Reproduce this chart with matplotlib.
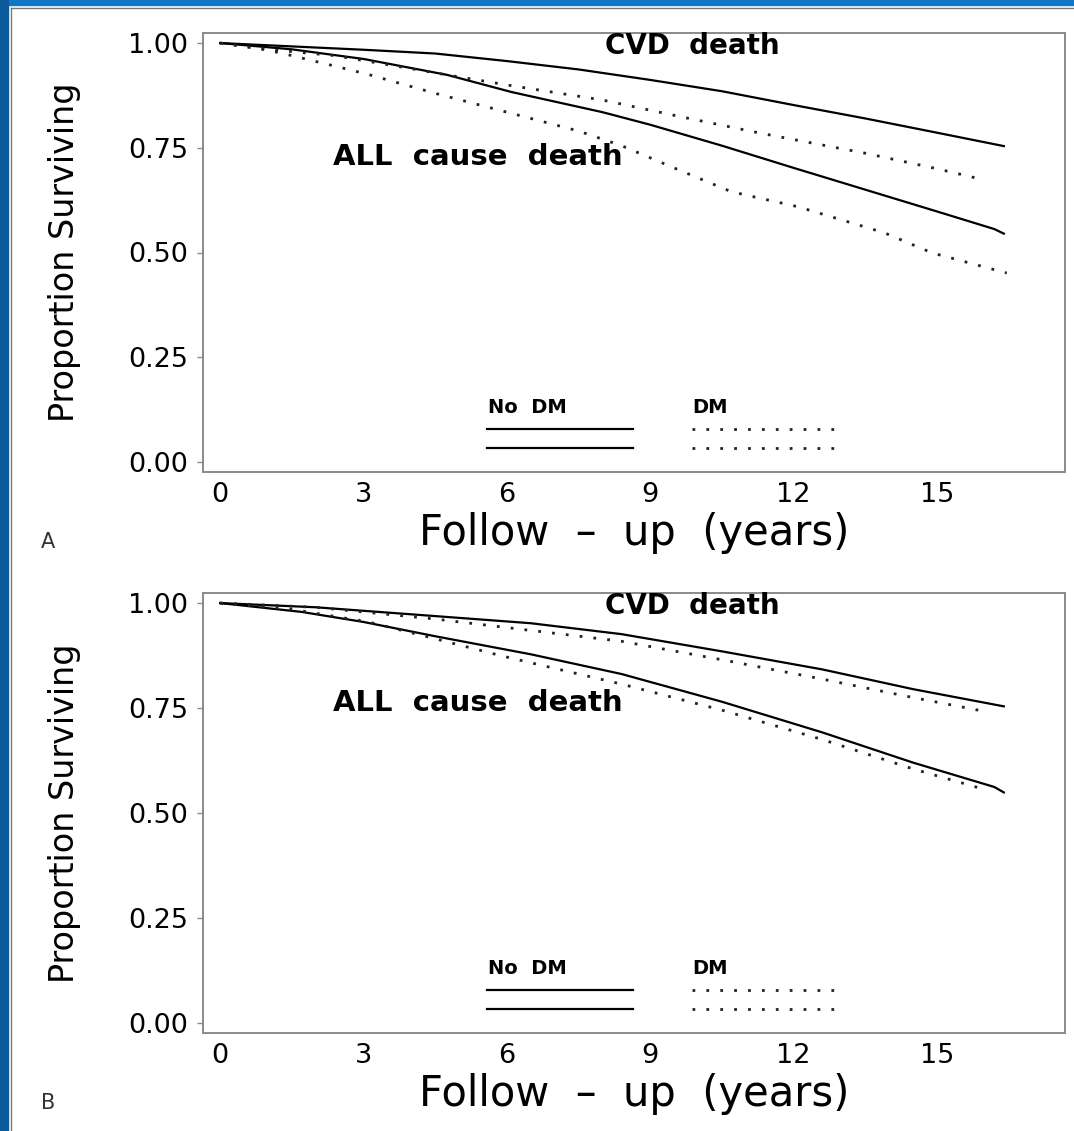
"""
Kaplan-Meier style survival curves (CVD / all cause death, DM vs no DM),
two stacked panels A and B.
"""

import matplotlib.pyplot as plt
from matplotlib.patches import Rectangle
from matplotlib.lines import Line2D

# ---- Panel A data (years, proportion surviving) ----
a_nodm_cvd_t = [0, 1.5, 3, 4.5, 6, 7.5, 9, 10.5, 12, 13.5, 15, 16.4]
a_nodm_cvd = [1.0, 0.992, 0.984, 0.975, 0.957, 0.937, 0.912, 0.885, 0.852, 0.82, 0.786, 0.754]
a_dm_cvd_t = [0, 1, 2.4, 4.75, 6, 8, 9.6, 11.3, 13.5, 15, 16.0]
a_dm_cvd = [1.0, 0.985, 0.97, 0.924, 0.90, 0.864, 0.825, 0.785, 0.737, 0.70, 0.673]
a_nodm_all_t = [0, 1.5, 3, 4.75, 6.1, 8, 9, 10.5, 12, 13.5, 15, 16.2, 16.4]
a_nodm_all = [1.0, 0.985, 0.962, 0.924, 0.883, 0.835, 0.805, 0.755, 0.702, 0.65, 0.598, 0.556, 0.545]
a_dm_all_t = [0, 1, 1.5, 2.4, 3.1, 4.5, 5.9, 7.5, 8.4, 9.6, 10.7, 12.1, 13.9, 14.9, 16.46]
a_dm_all = [1.0, 0.983, 0.97, 0.945, 0.925, 0.88, 0.838, 0.79, 0.755, 0.697, 0.645, 0.609, 0.547, 0.499, 0.451]

# ---- Panel B data ----
b_nodm_cvd_t = [0, 2, 4.5, 6.5, 8.4, 10.5, 12.6, 14.5, 16.4]
b_nodm_cvd = [1.0, 0.99, 0.969, 0.952, 0.926, 0.885, 0.842, 0.795, 0.754]
b_dm_cvd_t = [0, 2, 4.5, 5.9, 8.4, 10.5, 12.6, 14.5, 16.0]
b_dm_cvd = [1.0, 0.99, 0.962, 0.943, 0.909, 0.865, 0.819, 0.775, 0.742]
b_nodm_all_t = [0, 1.7, 3, 4.5, 6.5, 8.4, 10.5, 12.6, 14.5, 16.2, 16.4]
b_nodm_all = [1.0, 0.979, 0.955, 0.921, 0.878, 0.831, 0.765, 0.692, 0.62, 0.562, 0.549]
b_dm_all_t = [0, 1.5, 3.1, 4.5, 5.9, 8.4, 10.5, 12.6, 14.5, 16.0]
b_dm_all = [1.0, 0.985, 0.955, 0.915, 0.874, 0.807, 0.745, 0.675, 0.605, 0.556]

x_ticks = [0, 3, 6, 9, 12, 15]
y_ticks = [0.0, 0.25, 0.5, 0.75, 1.0]
y_tick_labels = ["0.00", "0.25", "0.50", "0.75", "1.00"]

SOLID = dict(color="black", lw=1.6, ls="-")
DOTTED = dict(color="#222222", lw=2.0, ls=(0, (1, 4)))
FRAME = "#8a8a8a"


def draw_panel(fig, rect, curves, letter, all_label_y):
    ax = fig.add_axes(rect)
    for (t, y), style in curves:
        ax.plot(t, y, **style)

    ax.set_xlim(-0.36, 17.68)
    ax.set_ylim(-0.024, 1.024)
    ax.set_xticks(x_ticks)
    ax.set_xticklabels([str(v) for v in x_ticks])
    ax.set_yticks(y_ticks)
    ax.set_yticklabels(y_tick_labels)
    ax.tick_params(axis="x", length=0, pad=7, labelsize=19.5)
    ax.tick_params(axis="y", length=4.5, width=1.0, color=FRAME, pad=6, labelsize=19.5)
    for s in ax.spines.values():
        s.set_color(FRAME)
        s.set_linewidth(1.4)

    ax.set_xlabel("Follow  \u2013  up  (years)", fontsize=30, labelpad=3)
    ax.set_ylabel("Proportion Surviving", fontsize=24, labelpad=34)

    ax.text(9.87, 0.993, "CVD  death", fontsize=20, fontweight="bold",
            ha="center", va="center")
    ax.text(5.4, all_label_y, "ALL  cause  death", fontsize=21, fontweight="bold",
            ha="center", va="center")

    # legend block
    ax.text(0.331, 0.146, "No  DM", transform=ax.transAxes, fontsize=14,
            fontweight="bold", ha="left", va="center")
    ax.text(0.567, 0.146, "DM", transform=ax.transAxes, fontsize=14,
            fontweight="bold", ha="left", va="center")
    for yy in (0.098, 0.055):
        ax.add_line(Line2D([0.329, 0.499], [yy, yy], transform=ax.transAxes, **SOLID))
        ax.add_line(Line2D([0.567, 0.735], [yy, yy], transform=ax.transAxes, **DOTTED))

    ax.text(-0.18, -0.16, letter, transform=ax.transAxes, fontsize=15,
            color="#333333", ha="center", va="center")
    return ax


def main():
    fig = plt.figure(figsize=(10.74, 11.31), dpi=100)
    W, H = 1074, 1131

    # blue slide border + thin gray frame
    fig.patches.append(Rectangle((0, 1 - 5 / H), 1, 5 / H, transform=fig.transFigure,
                                 color="#0f77c6", zorder=0))
    fig.patches.append(Rectangle((0, 0), 8 / W, 1, transform=fig.transFigure,
                                 color="#0c5a9c", zorder=0))
    fig.add_artist(Line2D([10.5 / W, 10.5 / W], [0, 1 - 8 / H], transform=fig.transFigure,
                          color="#777777", lw=1.0))
    fig.add_artist(Line2D([10.5 / W, 1], [1 - 8 / H, 1 - 8 / H], transform=fig.transFigure,
                          color="#777777", lw=1.0))

    rect_a = [203 / W, 1 - 472 / H, 862 / W, 439 / H]
    rect_b = [203 / W, 1 - 1033 / H, 862 / W, 440 / H]

    draw_panel(fig, rect_a, [
        ((a_nodm_cvd_t, a_nodm_cvd), SOLID),
        ((a_nodm_all_t, a_nodm_all), SOLID),
        ((a_dm_cvd_t, a_dm_cvd), DOTTED),
        ((a_dm_all_t, a_dm_all), DOTTED),
    ], "A", 0.728)

    draw_panel(fig, rect_b, [
        ((b_nodm_cvd_t, b_nodm_cvd), SOLID),
        ((b_nodm_all_t, b_nodm_all), SOLID),
        ((b_dm_cvd_t, b_dm_cvd), DOTTED),
        ((b_dm_all_t, b_dm_all), DOTTED),
    ], "B", 0.761)

    fig.savefig("out.png", dpi=100)


if __name__ == "__main__":
    main()
